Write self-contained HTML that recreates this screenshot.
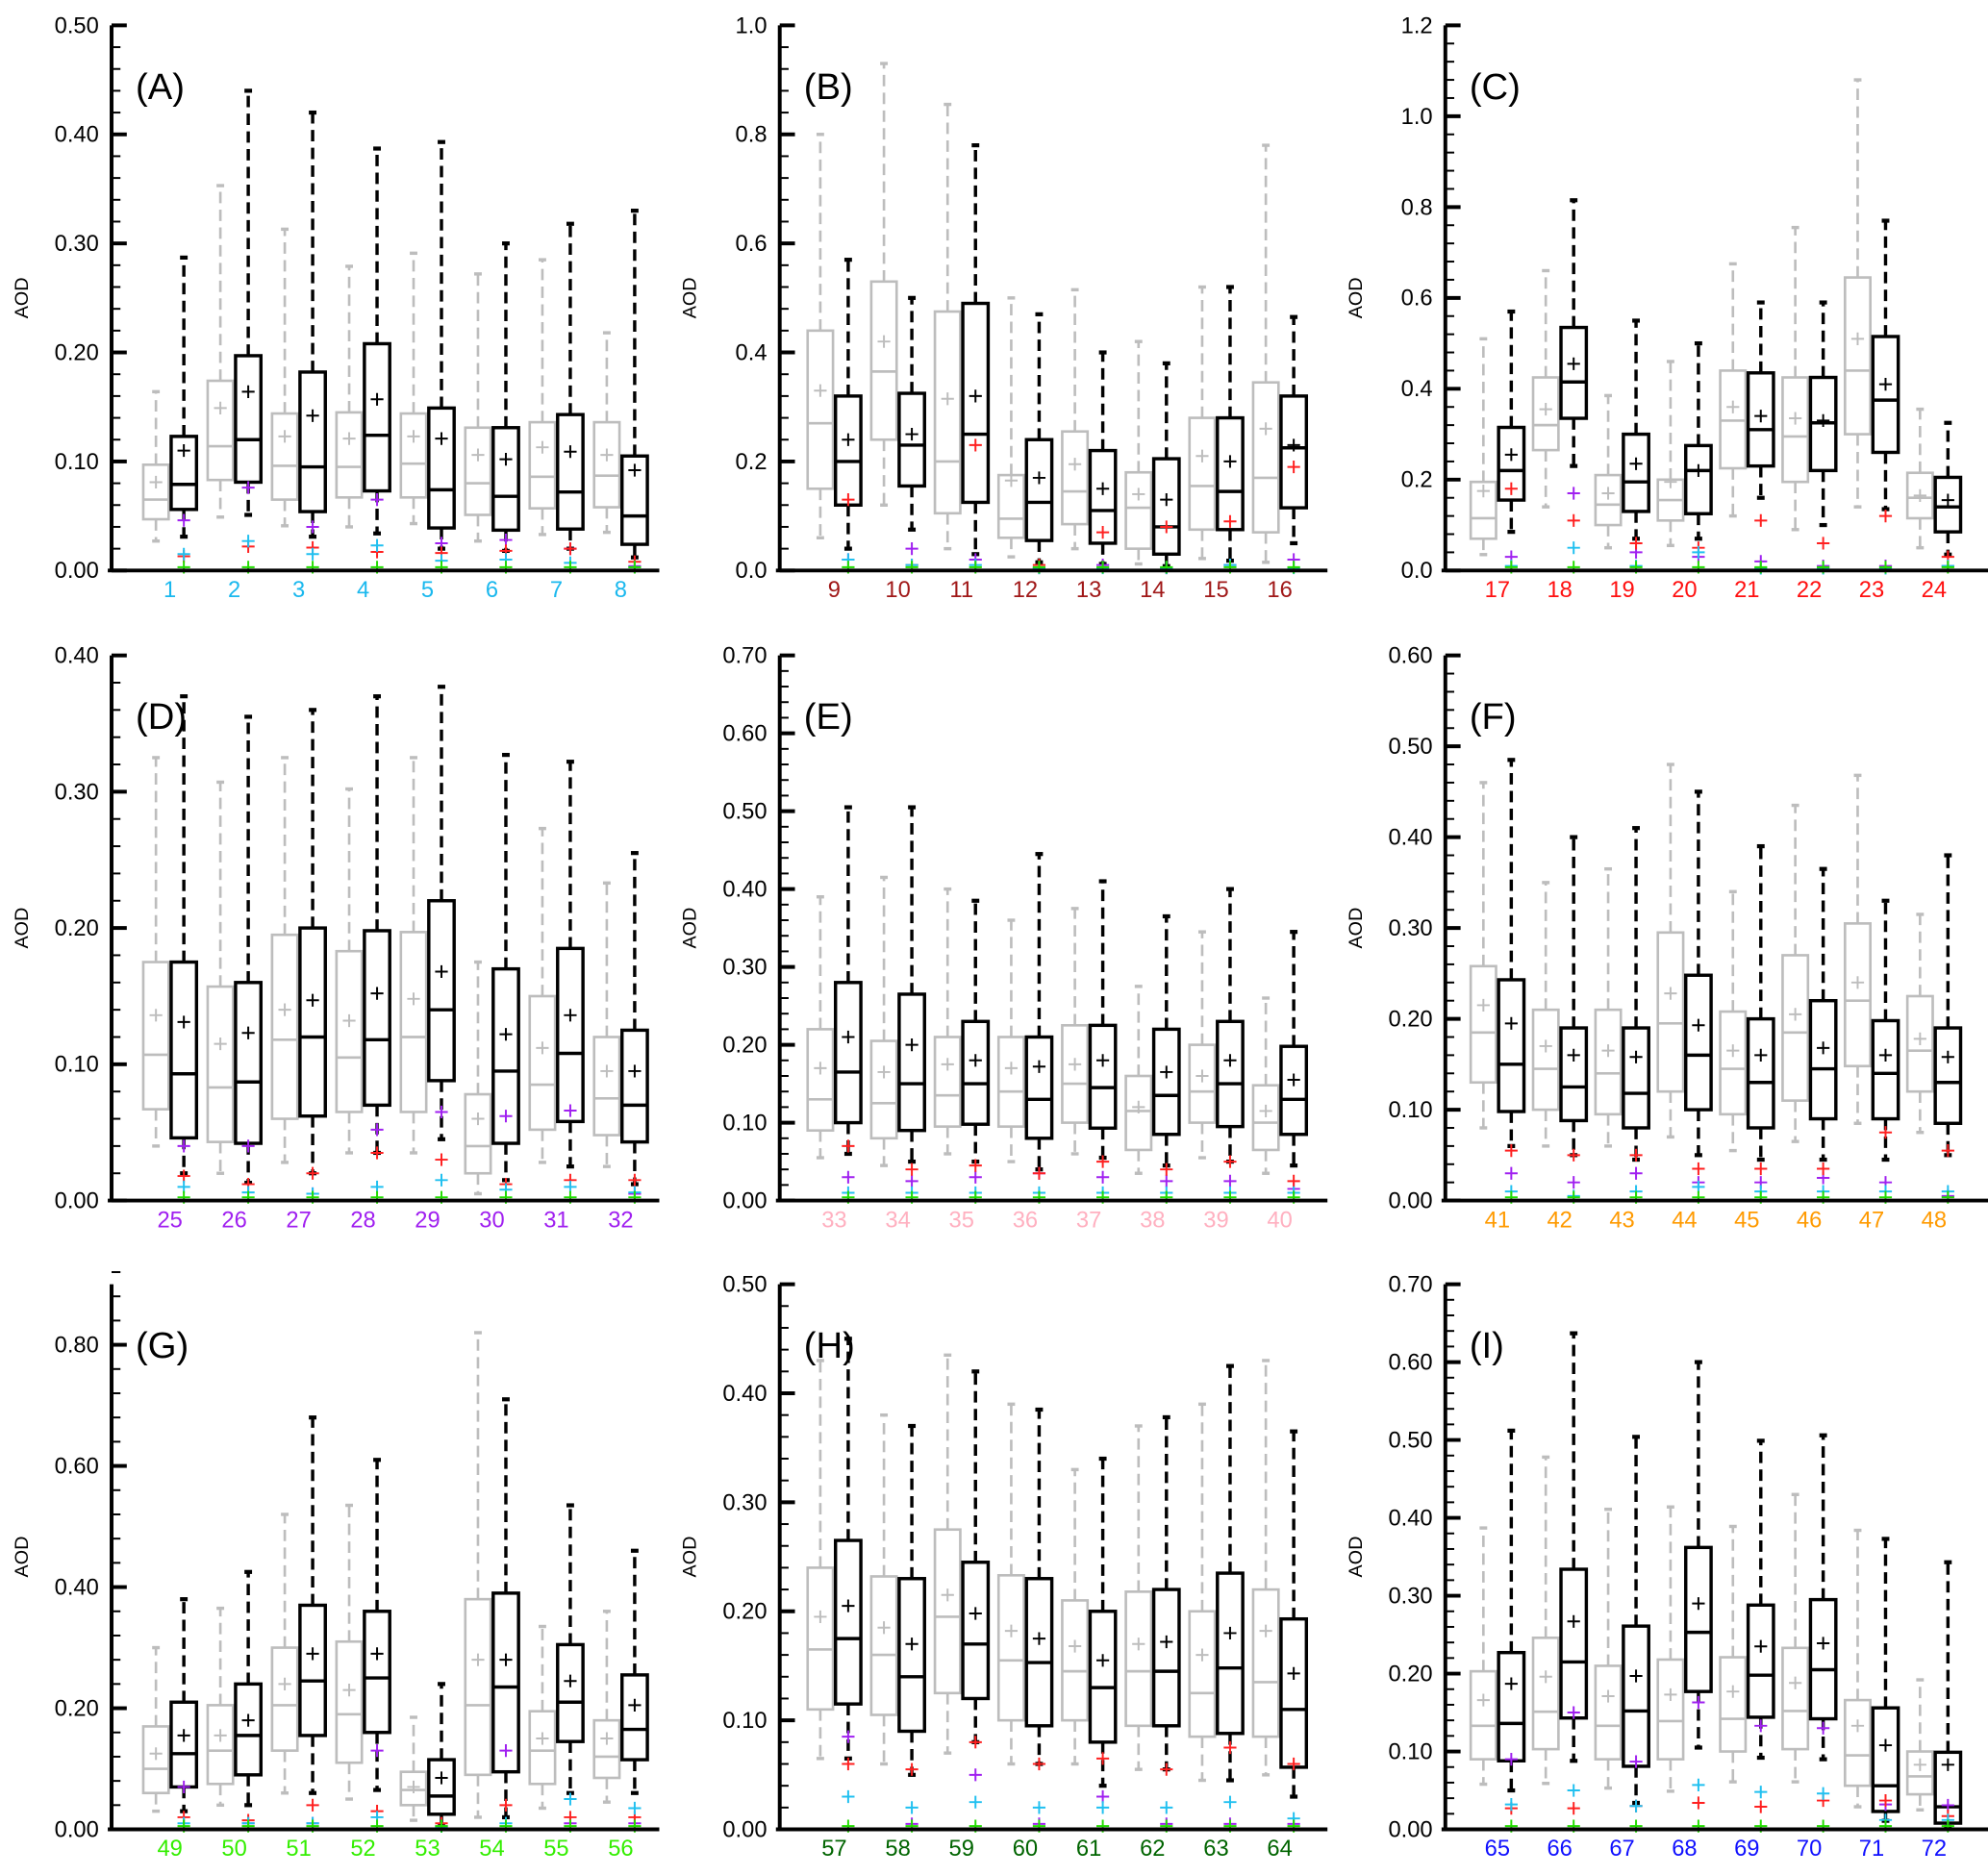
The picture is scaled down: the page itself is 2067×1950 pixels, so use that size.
<!DOCTYPE html>
<html><head><meta charset="utf-8"><style>
html,body{margin:0;padding:0;background:#fff;}
svg{display:block;font-family:"Liberation Sans",sans-serif;}
</style></head><body>
<svg id="fig" width="2067" height="1950" viewBox="0 0 1568 1479" preserveAspectRatio="none" xmlns="http://www.w3.org/2000/svg"></svg>
<script>
// each tuple: [lowWhisker, q1, median, q3, highWhisker, mean]
const grayA=[[0.027,0.047,0.065,0.097,0.164,0.081],[0.049,0.083,0.114,0.174,0.353,0.149],[0.041,0.065,0.096,0.144,0.313,0.123],[0.040,0.067,0.095,0.145,0.279,0.121],[0.043,0.067,0.098,0.144,0.291,0.123],[0.027,0.051,0.080,0.131,0.272,0.106],[0.033,0.057,0.086,0.136,0.285,0.113],[0.035,0.058,0.087,0.136,0.218,0.106]];
const blackA=[[0.031,0.056,0.079,0.123,0.287,0.110],[0.051,0.081,0.120,0.197,0.440,0.164],[0.031,0.054,0.095,0.182,0.420,0.142],[0.034,0.073,0.124,0.208,0.387,0.157],[0.020,0.039,0.074,0.149,0.393,0.121],[0.018,0.037,0.068,0.131,0.300,0.102],[0.020,0.038,0.072,0.143,0.318,0.109],[0.012,0.024,0.050,0.105,0.330,0.092]];
const grayB=[[0.06,0.15,0.27,0.44,0.80,0.33],[0.12,0.24,0.365,0.53,0.93,0.42],[0.04,0.105,0.20,0.475,0.855,0.315],[0.025,0.06,0.095,0.175,0.50,0.165],[0.04,0.085,0.145,0.255,0.515,0.195],[0.012,0.04,0.115,0.18,0.42,0.14],[0.022,0.075,0.155,0.28,0.52,0.21],[0.015,0.07,0.17,0.345,0.78,0.26]];
const blackB=[[0.04,0.12,0.20,0.32,0.57,0.24],[0.075,0.155,0.23,0.325,0.50,0.25],[0.03,0.125,0.25,0.49,0.78,0.32],[0.015,0.055,0.125,0.24,0.47,0.17],[0.012,0.05,0.11,0.22,0.40,0.15],[0.008,0.03,0.08,0.205,0.38,0.13],[0.018,0.075,0.145,0.28,0.52,0.20],[0.05,0.115,0.225,0.32,0.465,0.23]];
const grayC=[[0.035,0.07,0.115,0.195,0.51,0.175],[0.14,0.265,0.32,0.425,0.66,0.355],[0.05,0.10,0.145,0.21,0.385,0.17],[0.055,0.11,0.155,0.20,0.46,0.195],[0.12,0.225,0.33,0.44,0.675,0.36],[0.09,0.195,0.295,0.425,0.755,0.335],[0.14,0.30,0.44,0.645,1.08,0.51],[0.05,0.115,0.16,0.215,0.355,0.165]];
const blackC=[[0.085,0.155,0.22,0.315,0.57,0.255],[0.23,0.335,0.415,0.535,0.815,0.455],[0.07,0.13,0.195,0.30,0.55,0.235],[0.07,0.125,0.22,0.275,0.50,0.22],[0.16,0.23,0.31,0.435,0.59,0.34],[0.10,0.22,0.325,0.425,0.59,0.33],[0.135,0.26,0.375,0.515,0.77,0.41],[0.035,0.085,0.14,0.205,0.325,0.155]];
const grayD=[[0.04,0.067,0.107,0.175,0.325,0.136],[0.02,0.043,0.083,0.157,0.307,0.115],[0.028,0.06,0.118,0.195,0.325,0.14],[0.035,0.065,0.105,0.183,0.302,0.132],[0.035,0.065,0.12,0.197,0.325,0.148],[0.005,0.02,0.04,0.078,0.175,0.06],[0.028,0.052,0.085,0.15,0.273,0.112],[0.025,0.048,0.075,0.12,0.233,0.095]];
const blackD=[[0.02,0.046,0.093,0.175,0.37,0.131],[0.013,0.042,0.087,0.16,0.355,0.123],[0.02,0.062,0.12,0.20,0.36,0.147],[0.035,0.07,0.118,0.198,0.37,0.152],[0.045,0.088,0.14,0.22,0.377,0.168],[0.015,0.042,0.095,0.17,0.327,0.122],[0.025,0.058,0.108,0.185,0.322,0.136],[0.012,0.043,0.07,0.125,0.255,0.095]];
const grayE=[[0.055,0.09,0.13,0.22,0.39,0.17],[0.045,0.08,0.125,0.205,0.415,0.165],[0.06,0.095,0.135,0.21,0.40,0.175],[0.05,0.095,0.14,0.21,0.36,0.17],[0.06,0.10,0.15,0.225,0.375,0.175],[0.035,0.065,0.115,0.16,0.275,0.12],[0.055,0.10,0.14,0.20,0.345,0.16],[0.035,0.065,0.10,0.148,0.26,0.115]];
const blackE=[[0.06,0.10,0.165,0.28,0.505,0.21],[0.05,0.09,0.15,0.265,0.505,0.20],[0.05,0.098,0.15,0.23,0.385,0.18],[0.04,0.08,0.13,0.21,0.445,0.172],[0.055,0.093,0.145,0.225,0.41,0.18],[0.045,0.085,0.135,0.22,0.365,0.165],[0.05,0.095,0.15,0.23,0.40,0.18],[0.045,0.085,0.13,0.198,0.345,0.155]];
const grayF=[[0.08,0.13,0.185,0.258,0.46,0.215],[0.06,0.10,0.145,0.21,0.35,0.17],[0.06,0.095,0.14,0.21,0.365,0.165],[0.07,0.12,0.195,0.295,0.48,0.228],[0.055,0.095,0.145,0.208,0.34,0.165],[0.065,0.11,0.185,0.27,0.435,0.205],[0.085,0.148,0.22,0.305,0.468,0.24],[0.075,0.12,0.165,0.225,0.315,0.178]];
const blackF=[[0.06,0.098,0.15,0.243,0.485,0.195],[0.05,0.088,0.125,0.19,0.40,0.16],[0.045,0.08,0.118,0.19,0.41,0.158],[0.05,0.10,0.16,0.248,0.45,0.193],[0.045,0.08,0.13,0.20,0.39,0.16],[0.045,0.09,0.145,0.22,0.365,0.168],[0.045,0.09,0.14,0.198,0.33,0.16],[0.05,0.085,0.13,0.19,0.38,0.158]];
const grayG=[[0.03,0.06,0.10,0.17,0.30,0.125],[0.04,0.075,0.13,0.205,0.365,0.155],[0.06,0.13,0.205,0.30,0.52,0.24],[0.05,0.11,0.19,0.31,0.535,0.23],[0.015,0.04,0.065,0.095,0.185,0.07],[0.02,0.09,0.205,0.38,0.82,0.28],[0.035,0.075,0.13,0.195,0.335,0.15],[0.045,0.085,0.12,0.18,0.36,0.15]];
const blackG=[[0.03,0.07,0.125,0.21,0.38,0.155],[0.04,0.09,0.155,0.24,0.425,0.18],[0.06,0.155,0.245,0.37,0.68,0.29],[0.065,0.16,0.25,0.36,0.61,0.29],[0.005,0.025,0.055,0.115,0.24,0.085],[0.02,0.095,0.235,0.39,0.71,0.28],[0.06,0.145,0.21,0.305,0.535,0.245],[0.06,0.115,0.165,0.255,0.46,0.205]];
const grayH=[[0.065,0.11,0.165,0.24,0.43,0.195],[0.06,0.105,0.16,0.232,0.38,0.185],[0.07,0.125,0.195,0.275,0.435,0.215],[0.06,0.10,0.155,0.233,0.39,0.182],[0.06,0.10,0.145,0.21,0.33,0.168],[0.055,0.095,0.145,0.218,0.37,0.17],[0.045,0.085,0.125,0.20,0.39,0.16],[0.05,0.085,0.135,0.22,0.43,0.182]];
const blackH=[[0.065,0.115,0.175,0.265,0.45,0.205],[0.05,0.09,0.14,0.23,0.37,0.17],[0.08,0.12,0.17,0.245,0.42,0.198],[0.06,0.095,0.153,0.23,0.385,0.175],[0.04,0.08,0.13,0.20,0.34,0.155],[0.055,0.095,0.145,0.22,0.378,0.172],[0.045,0.088,0.148,0.235,0.425,0.18],[0.03,0.057,0.11,0.193,0.365,0.143]];
const grayI=[[0.058,0.09,0.133,0.203,0.387,0.166],[0.059,0.103,0.151,0.246,0.478,0.196],[0.053,0.09,0.133,0.21,0.411,0.171],[0.049,0.09,0.139,0.218,0.414,0.173],[0.061,0.10,0.142,0.221,0.389,0.177],[0.061,0.103,0.152,0.233,0.43,0.188],[0.029,0.056,0.095,0.166,0.384,0.133],[0.025,0.045,0.068,0.10,0.192,0.083]];
const blackI=[[0.05,0.088,0.136,0.227,0.512,0.187],[0.088,0.143,0.215,0.334,0.637,0.267],[0.034,0.081,0.152,0.261,0.504,0.197],[0.105,0.177,0.253,0.362,0.60,0.29],[0.092,0.144,0.198,0.288,0.499,0.235],[0.09,0.142,0.205,0.295,0.506,0.239],[0.011,0.023,0.056,0.156,0.373,0.108],[0.003,0.008,0.029,0.099,0.343,0.083]];
// outlier values per group (black series): red, cyan, purple
const redOut={A:[0.013,0.022,0.021,0.017,0.016,0.018,0.020,0.008],B:[0.13,0.01,0.23,0.01,0.07,0.08,0.09,0.19],C:[0.18,0.11,0.06,0.05,0.11,0.06,0.12,0.03],D:[0.018,0.012,0.02,0.035,0.03,0.012,0.015,0.015],E:[0.07,0.04,0.045,0.035,0.05,0.04,0.05,0.025],F:[0.055,0.05,0.05,0.035,0.035,0.035,0.075,0.055],G:[0.02,0.015,0.04,0.03,0.01,0.04,0.02,0.02],H:[0.06,0.055,0.08,0.06,0.065,0.055,0.075,0.06],I:[0.027,0.027,0.03,0.034,0.029,0.037,0.037,0.017]};
const cyanOut={A:[0.015,0.027,0.015,0.023,0.009,0.010,0.007,0.003],B:[0.02,0.01,0.01,0.005,0.005,0.005,0.01,0.005],C:[0.01,0.05,0.01,0.04,0.005,0.005,0.005,0.01],D:[0.01,0.006,0.005,0.01,0.015,0.008,0.01,0.006],E:[0.01,0.01,0.01,0.01,0.01,0.01,0.01,0.01],F:[0.01,0.005,0.01,0.015,0.01,0.01,0.01,0.01],G:[0.01,0.01,0.01,0.02,0.005,0.01,0.05,0.035],H:[0.03,0.02,0.025,0.02,0.02,0.02,0.025,0.01],I:[0.032,0.05,0.03,0.057,0.048,0.046,0.012,0.012]};
const purpleOut={A:[0.046,0.076,0.04,0.065,0.025,0.028,0.020,0.004],B:[0.02,0.04,0.02,0.005,0.01,0.005,0.01,0.02],C:[0.03,0.17,0.04,0.03,0.02,0.01,0.01,0.01],D:[0.04,0.04,0.005,0.052,0.065,0.062,0.066,0.005],E:[0.03,0.025,0.03,0.035,0.03,0.025,0.025,0.015],F:[0.03,0.02,0.03,0.02,0.02,0.025,0.02,0.005],G:[0.07,0.01,0.01,0.13,0.005,0.13,0.01,0.01],H:[0.085,0.005,0.05,0.005,0.03,0.005,0.005,0.005],I:[0.09,0.15,0.087,0.163,0.133,0.13,0.032,0.031]};
const panelLetters=["A","B","C","D","E","F","G","H","I"];
const yMaxes=[0.5,1.0,1.2,0.4,0.7,0.6,0.9,0.5,0.7];
const tickSteps=[0.1,0.2,0.2,0.1,0.1,0.1,0.2,0.1,0.1];
const tickTops=[0.5,1.0,1.2,0.4,0.7,0.6,0.8,0.5,0.7];
const tickDecimals=[2,1,1,2,2,2,2,2,2];
const labelColors=["#1ab8ee","#a01818","#ff1010","#a020f0","#ffb0c0","#ff9a00","#33ee00","#006400","#1010ff"];
const grays=[grayA,grayB,grayC,grayD,grayE,grayF,grayG,grayH,grayI];
const blacks=[blackA,blackB,blackC,blackD,blackE,blackF,blackG,blackH,blackI];

const NS="http://www.w3.org/2000/svg";
const svg=document.getElementById('fig');
function mk(tag,attrs,parent){const e=document.createElementNS(NS,tag);for(const k in attrs)e.setAttribute(k,attrs[k]);(parent||svg).appendChild(e);return e;}
const colX=[88,615,1140], rowBottom=[450,947,1443], H=430, W=432;
const colFirst=[46,43,41], colSp=[50.8,50.2,49.2];

for(let p=0;p<9;p++){
  const c=p%3;
  const ax=colX[c], by=rowBottom[Math.floor(p/3)], ty=by-H, ymax=yMaxes[p];
  const g=mk('g',{});
  
  
  const y=v=>by-v/ymax*H;
  const x=i=>ax+colFirst[c]+i*colSp[c];
  const drawBox=(d,cx,isBlack,name)=>{
    const bg=mk('g',{},g);
    
    
    const col=isBlack?'#000':'#bdbdbd', sw=isBlack?2.6:2, hw=10;
    mk('line',{x1:cx,x2:cx,y1:y(d[3]),y2:y(d[4]),stroke:col,'stroke-width':sw,'stroke-dasharray':'9 5'},bg);
    mk('line',{x1:cx,x2:cx,y1:y(d[1]),y2:y(d[0]),stroke:col,'stroke-width':sw,'stroke-dasharray':'9 5'},bg);
    mk('line',{x1:cx-3,x2:cx+3,y1:y(d[4]),y2:y(d[4]),stroke:col,'stroke-width':sw+0.6},bg);
    mk('line',{x1:cx-3,x2:cx+3,y1:y(d[0]),y2:y(d[0]),stroke:col,'stroke-width':sw+0.6},bg);
    mk('rect',{x:cx-hw,y:y(d[3]),width:2*hw,height:y(d[1])-y(d[3]),fill:'none',stroke:col,'stroke-width':sw},bg);
    mk('line',{x1:cx-hw,x2:cx+hw,y1:y(d[2]),y2:y(d[2]),stroke:col,'stroke-width':sw},bg);
    const my=y(d[5]);
    mk('path',{d:`M${cx-5} ${my}H${cx+5}M${cx} ${my-5}V${my+5}`,stroke:col,'stroke-width':1.5},bg);
  };
  const cross=(cx,v,col)=>{const yy=y(v);const e=mk('path',{d:`M${cx-5} ${yy}H${cx+5}M${cx} ${yy-5}V${yy+5}`,stroke:col,'stroke-width':1.5},g);
    
    };
  const L=panelLetters[p];
  for(let i=0;i<8;i++){
    const cx=x(i);
    drawBox(grays[p][i],cx-11,false,'gray-box-'+(p*8+i+1));
    drawBox(blacks[p][i],cx+11,true,'black-box-'+(p*8+i+1));
    cross(cx+11,purpleOut[L][i],'#a020f0');
    cross(cx+11,redOut[L][i],'#ff2020');
    cross(cx+11,cyanOut[L][i],'#20c0f0');
    cross(cx+11,0.003*ymax/0.5,'#22dd00');
    const t=mk('text',{x:cx,y:by+21,'font-size':18,'text-anchor':'middle',fill:labelColors[p]},g);
    t.textContent=String(p*8+i+1);
    
    
  }
  const axl=mk('path',{d:`M${ax} ${ty}V${by}M${ax-3} ${by}H${ax+W}`,stroke:'#000','stroke-width':3,fill:'none'},g);
  
  
  const st=tickSteps[p];
  const nMinor=Math.round(ymax/(st/5));
  for(let k=0;k<=nMinor;k++){const v=k*st/5;const major=k%5===0;
    mk('line',{x1:ax,x2:ax+(major?12:7),y1:y(v),y2:y(v),stroke:'#000','stroke-width':major?3:1.5},g);}
  const nT=Math.round(tickTops[p]/st);
  for(let k=0;k<=nT;k++){const v=k*st;
    const t=mk('text',{x:ax-10,y:y(v)+6,'font-size':18,'text-anchor':'end',fill:'#000'},g);
    t.textContent=v.toFixed(tickDecimals[p]);
    
    }
  const yt=mk('text',{x:0,y:0,'font-size':15,'text-anchor':'middle',transform:`translate(${ax-66},${by-H/2}) rotate(-90)`},g);
  yt.textContent='AOD';
  
  
  const pl=mk('text',{x:ax+19,y:ty+58,'font-size':29,fill:'#000'},g);
  pl.textContent='('+L+')';
  
  
}
</script>
</body></html>
